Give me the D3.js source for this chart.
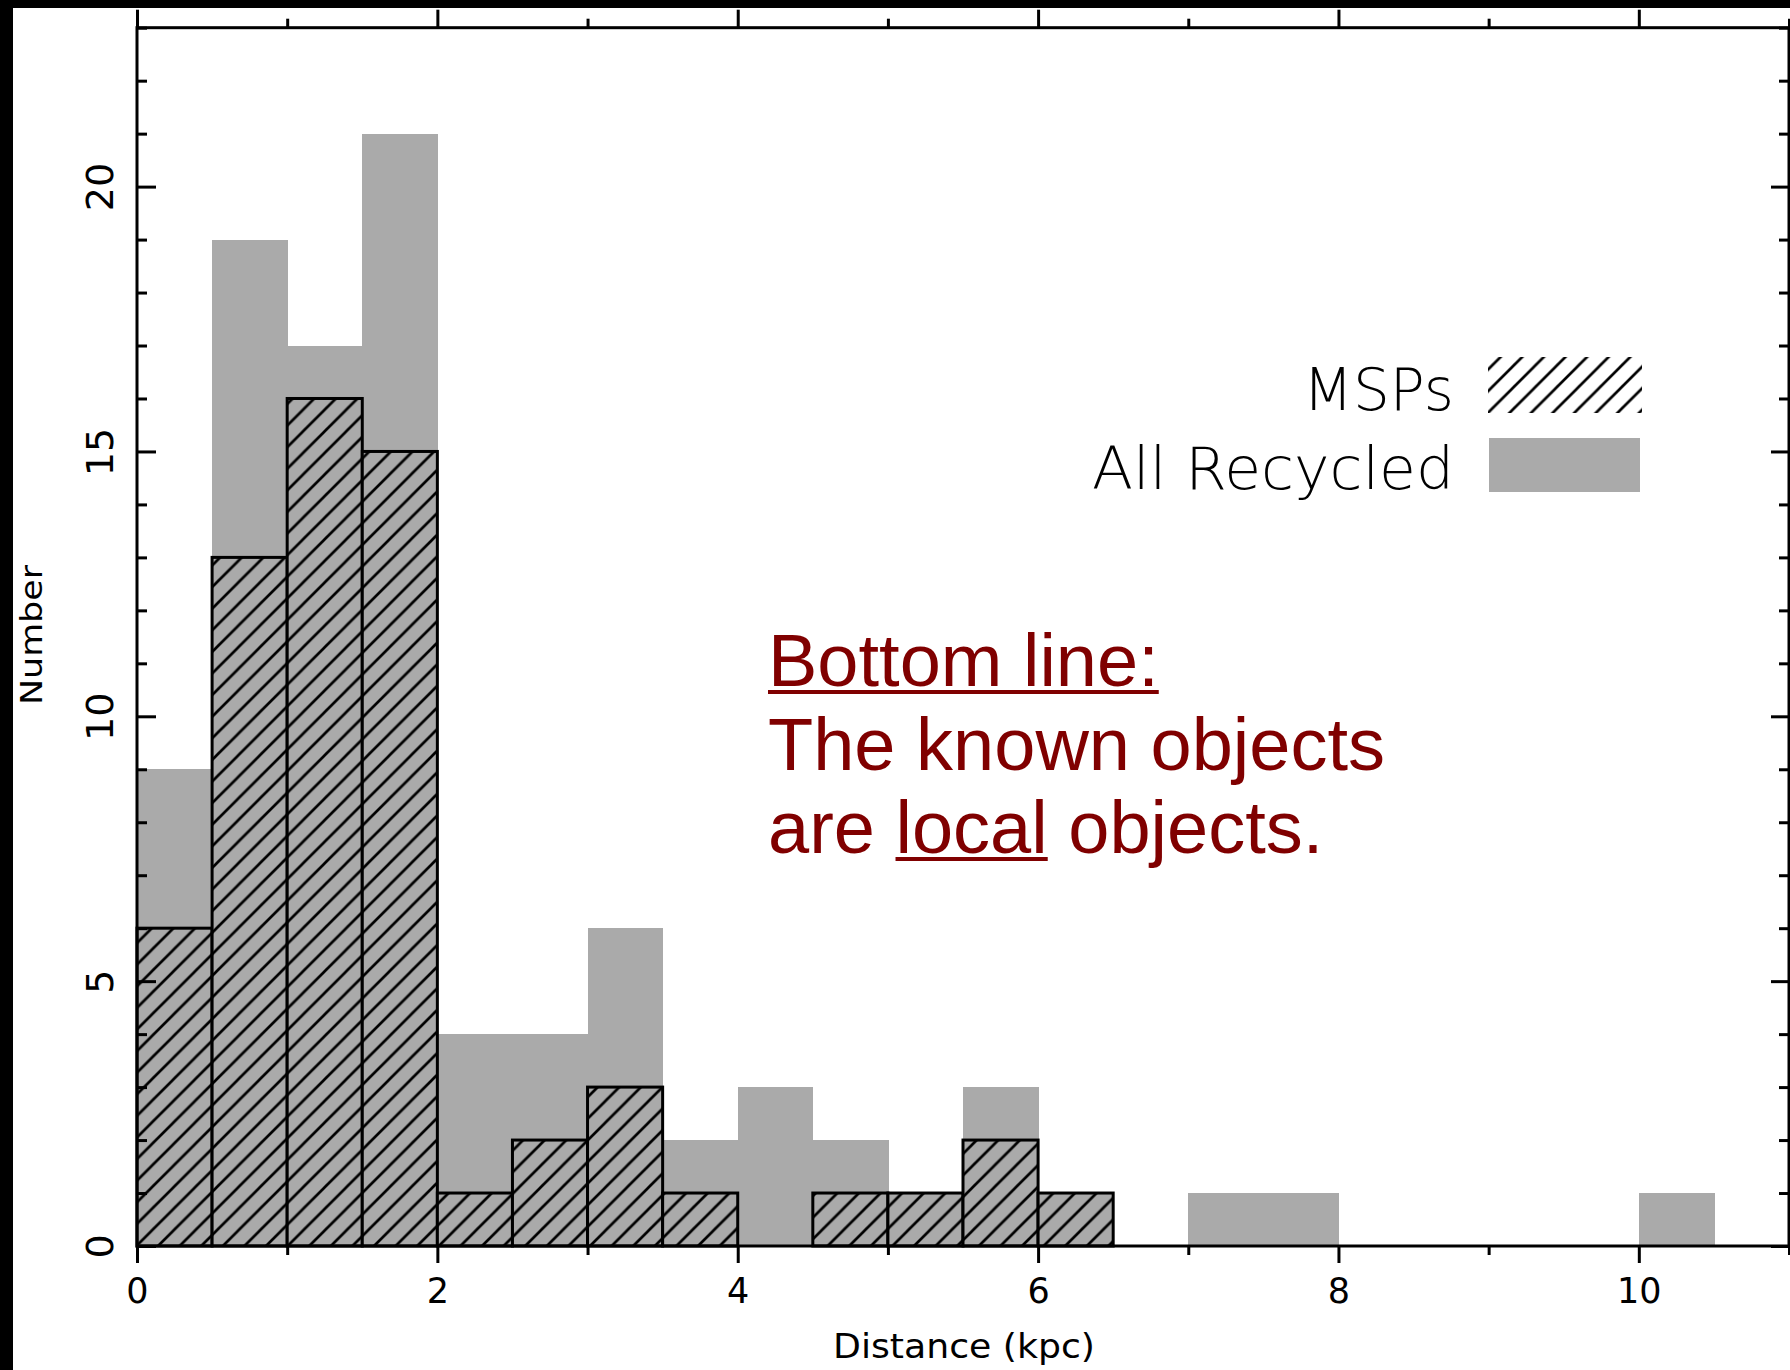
<!DOCTYPE html>
<html><head><meta charset="utf-8">
<script src="https://cdn.jsdelivr.net/npm/d3@7"></script>
<style>html,body{margin:0;padding:0;background:#fff;}svg{display:block;}</style>
</head><body>
<script>
// Histogram bins (kpc), 0.5 kpc wide
const binStarts = [0,0.5,1,1.5,2,2.5,3,3.5,4,4.5,5,5.5,6,6.5,7,7.5,8,8.5,9,9.5,10,10.5];
const allRecycled = [9,19,17,21,4,4,6,2,3,2,1,3,1,0,1,1,0,0,0,0,1,0];
const msps        = [6,13,16,15,1,2,3,1,0,1,1,2,1,0,0,0,0,0,0,0,0,0];
const binWidth = 0.5;
const xMajorTicks = [0,2,4,6,8,10];
const xMinorTicks = [1,3,5,7,9,11];
const yMajorTicks = [0,5,10,15,20];
const yMinorTicks = [1,2,3,4,6,7,8,9,11,12,13,14,16,17,18,19,21,22,23];
const legendLabels = ["MSPs","All Recycled"];
const noteLines = [["Bottom line:"],["The known objects"],["are ","local"," objects."]];

const W=1790,H=1370;
const svg=d3.select("body").append("svg").attr("width",W).attr("height",H);
const defs=svg.append("defs");
const S=21.6;
function hatch(id,bg){
  const p=defs.append("pattern").attr("id",id).attr("patternUnits","userSpaceOnUse")
    .attr("width",S).attr("height",S);
  if(bg) p.append("rect").attr("width",S).attr("height",S).attr("fill",bg);
  p.append("path").attr("d",`M0,${S} L${S},0 M${-S/4},${S/4} L${S/4},${-S/4} M${S*0.75},${S*1.25} L${S*1.25},${S*0.75}`)
    .attr("stroke","#000").attr("stroke-width",2.7);
}
hatch("hatchGray","#aaaaaa");
hatch("hatchClear",null);

svg.append("rect").attr("width",W).attr("height",H).attr("fill","#fff");

const x=d3.scaleLinear().domain([0,11]).range([137,1789]);
const y=d3.scaleLinear().domain([0,23]).range([1246,27.7]);

// gray bars
svg.append("g").attr("shape-rendering","crispEdges").selectAll("rect")
  .data(binStarts.map((b,i)=>({b,v:allRecycled[i]})).filter(d=>d.v>0))
  .join("rect").attr("x",d=>x(d.b)).attr("width",d=>x(d.b+binWidth)-x(d.b)+0.6)
  .attr("y",d=>y(d.v)).attr("height",d=>y(0)-y(d.v)).attr("fill","#aaaaaa");

// MSP hatched bars
svg.append("g").selectAll("rect").data(binStarts.map((b,i)=>({b,v:msps[i]})).filter(d=>d.v>0))
  .join("rect").attr("x",d=>x(d.b)).attr("width",d=>x(d.b+binWidth)-x(d.b))
  .attr("y",d=>y(d.v)).attr("height",d=>y(0)-y(d.v)).attr("fill","url(#hatchGray)")
  .attr("stroke","#000").attr("stroke-width",3);

// frame
svg.append("rect").attr("x",x(0)).attr("y",y(23)).attr("width",x(11)-x(0)).attr("height",y(0)-y(23))
  .attr("fill","none").attr("stroke","#000").attr("stroke-width",3);

const tickFont='"DejaVu Sans", sans-serif';
function styleAxis(g){g.select(".domain").remove();g.selectAll("line").attr("stroke","#000").attr("stroke-width",3);}

// bottom axis
svg.append("g").attr("transform",`translate(0,${y(0)})`)
  .call(d3.axisBottom(x).tickValues(xMajorTicks).tickSize(17).tickSizeOuter(0).tickFormat(d3.format("d")))
  .call(styleAxis)
  .call(g=>g.selectAll("text").attr("y",57).attr("dy",0).attr("font-size",35).attr("font-family",tickFont).attr("fill","#000"));
svg.append("g").attr("transform",`translate(0,${y(0)})`)
  .call(d3.axisBottom(x).tickValues(xMinorTicks).tickSize(9).tickSizeOuter(0).tickFormat(""))
  .call(styleAxis);
// top axis
svg.append("g").attr("transform",`translate(0,${y(23)})`)
  .call(d3.axisTop(x).tickValues(xMajorTicks).tickSize(18).tickSizeOuter(0).tickFormat(""))
  .call(styleAxis);
svg.append("g").attr("transform",`translate(0,${y(23)})`)
  .call(d3.axisTop(x).tickValues(xMinorTicks).tickSize(9).tickSizeOuter(0).tickFormat(""))
  .call(styleAxis);
// left axis (ticks inward)
svg.append("g").attr("transform",`translate(${x(0)},0)`)
  .call(d3.axisLeft(y).tickValues(yMajorTicks).tickSize(-19).tickSizeOuter(0).tickFormat(d3.format("d")))
  .call(styleAxis)
  .call(g=>g.selectAll("text").attr("x",0).attr("dy",0).attr("text-anchor","middle")
     .attr("transform","translate(-24,0) rotate(-90)").attr("font-size",38).attr("font-family",tickFont).attr("fill","#000"));
svg.append("g").attr("transform",`translate(${x(0)},0)`)
  .call(d3.axisLeft(y).tickValues(yMinorTicks).tickSize(-10).tickSizeOuter(0).tickFormat(""))
  .call(styleAxis);
// right axis (ticks inward)
svg.append("g").attr("transform",`translate(${x(11)},0)`)
  .call(d3.axisRight(y).tickValues(yMajorTicks).tickSize(-18).tickSizeOuter(0).tickFormat(""))
  .call(styleAxis);
svg.append("g").attr("transform",`translate(${x(11)},0)`)
  .call(d3.axisRight(y).tickValues(yMinorTicks).tickSize(-10).tickSizeOuter(0).tickFormat(""))
  .call(styleAxis);

// axis titles
svg.append("text").attr("x",964).attr("y",1358).attr("text-anchor","middle")
  .attr("font-family",tickFont).attr("font-size",34).attr("textLength",262).attr("lengthAdjust","spacingAndGlyphs")
  .attr("fill","#000").text("Distance (kpc)");
svg.append("text").attr("transform","translate(42,635) rotate(-90)").attr("text-anchor","middle")
  .attr("font-family",tickFont).attr("font-size",30).attr("textLength",140).attr("lengthAdjust","spacingAndGlyphs")
  .attr("fill","#000").text("Number");

// legend
const legFont='"DejaVu Sans", sans-serif';
svg.append("text").attr("x",1454).attr("y",410).attr("text-anchor","end").attr("font-family",legFont)
  .attr("font-weight",200).attr("font-size",58).attr("fill","#000").text(legendLabels[0]);
svg.append("text").attr("x",1454).attr("y",489).attr("text-anchor","end").attr("font-family",legFont)
  .attr("font-weight",200).attr("font-size",58).attr("textLength",362).attr("lengthAdjust","spacingAndGlyphs")
  .attr("fill","#000").text(legendLabels[1]);
svg.append("rect").attr("x",1488).attr("y",357).attr("width",154).attr("height",56).attr("fill","url(#hatchClear)");
svg.append("rect").attr("x",1489).attr("y",438).attr("width",151).attr("height",54).attr("fill","#aaaaaa");

// annotation
const noteColor="#800000";
const baselines=[686,770,853];
const underlined=[[0],[],[1]];
noteLines.forEach((parts,li)=>{
  const t=svg.append("text").attr("x",768).attr("y",baselines[li]).attr("font-family",'"Liberation Sans", Arial, sans-serif')
    .attr("font-size",74).attr("fill",noteColor);
  parts.forEach(p=>t.append("tspan").text(p));
  const node=t.node();
  let offset=0;
  parts.forEach((p,pi)=>{
    const len=node.getSubStringLength(offset,p.length);
    const start=offset>0?node.getSubStringLength(0,offset):0;
    if(underlined[li].includes(pi)){
      svg.append("rect").attr("x",768+start).attr("y",baselines[li]+4).attr("width",len).attr("height",4).attr("fill",noteColor);
    }
    offset+=p.length;
  });
});

// black borders
svg.append("rect").attr("x",0).attr("y",0).attr("width",W).attr("height",8).attr("fill","#000");
svg.append("rect").attr("x",0).attr("y",0).attr("width",13).attr("height",H).attr("fill","#000");
</script>
</body></html>
